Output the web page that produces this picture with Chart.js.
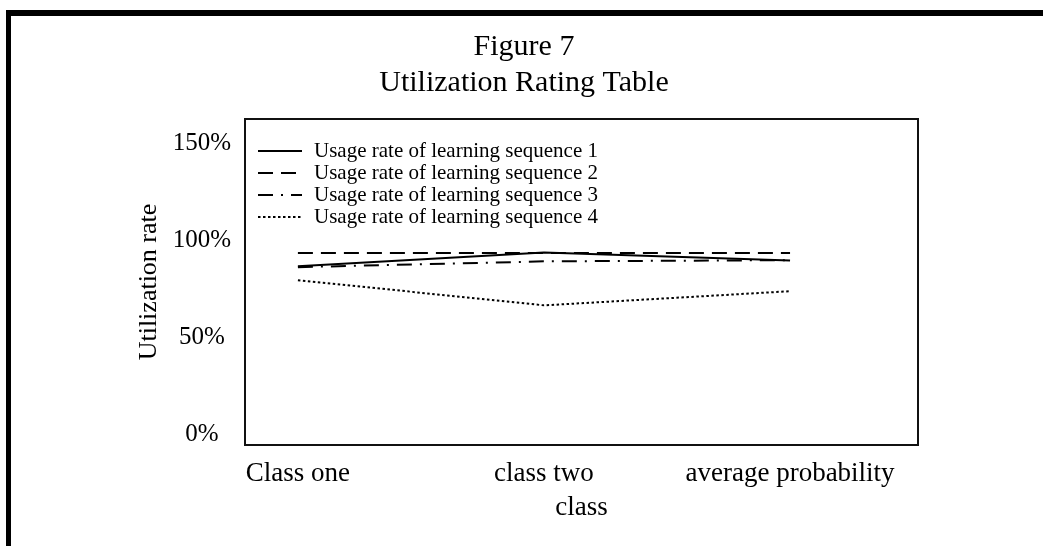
<!DOCTYPE html>
<html>
<head>
<meta charset="utf-8">
<script src="https://cdn.jsdelivr.net/npm/chart.js@4.4.0/dist/chart.umd.min.js"></script>
<style>
  html, body { margin: 0; padding: 0; background: #fff; }
  #wrap { position: relative; width: 1055px; height: 546px; overflow: hidden; background: #fff; }
  #frame { position: absolute; left: 6px; top: 10px; width: 1032px; height: 600px;
           border-top: 6px solid #000; border-left: 5px solid #000; pointer-events: none; }
  canvas { position: absolute; left: 0; top: 0; }
</style>
</head>
<body>
<div id="wrap">
  <canvas id="c" width="1055" height="546"></canvas>
  <div id="frame"></div>
</div>
<script>
// ---- data ----
const categories = ['Class one', 'class two', 'average probability'];
const seriesLabels = [
  'Usage rate of learning sequence 1',
  'Usage rate of learning sequence 2',
  'Usage rate of learning sequence 3',
  'Usage rate of learning sequence 4'
];
const seq1 = [86.5, 93.5, 89.5];
const seq2 = [93.3, 93.3, 93.3];
const seq3 = [86.0, 89.0, 89.6];
const seq4 = [79.3, 66.3, 73.6];
const yTickValues = [0, 50, 100, 150];
const yTickLabels = ['0%', '50%', '100%', '150%'];

// ---- styles ----
const FONT = '"Liberation Serif", "Times New Roman", serif';
const dashes = [[], [15, 8], [15, 8, 2, 8], [2.5, 2.5]];
const seriesValues = [seq1, seq2, seq3, seq4];

const datasets = seriesValues.map((vals, k) => ({
  label: seriesLabels[k],
  data: vals.map((v, i) => ({ x: i, y: v })),
  borderColor: '#000',
  backgroundColor: '#000',
  borderWidth: 2,
  borderDash: dashes[k],
  pointRadius: 0,
  tension: 0,
  fill: false
}));

const frameAndLegend = {
  id: 'frameAndLegend',
  afterDraw(chart) {
    const { ctx, chartArea: a } = chart;
    ctx.save();
    ctx.strokeStyle = '#111';
    ctx.lineWidth = 2;
    ctx.setLineDash([]);
    ctx.strokeRect(a.left, a.top, a.right - a.left, a.bottom - a.top);
    // legend inside plot area
    const rowTop = 32, rowGap = 22;
    const x0 = a.left + 13, x1 = a.left + 57, tx = a.left + 69;
    ctx.font = '21px ' + FONT;
    ctx.textBaseline = 'middle';
    ctx.textAlign = 'left';
    ctx.fillStyle = '#000';
    chart.data.datasets.forEach((ds, k) => {
      const y = a.top + rowTop + k * rowGap;
      ctx.beginPath();
      ctx.strokeStyle = '#000';
      ctx.lineWidth = ds.borderWidth;
      ctx.setLineDash(ds.borderDash || []);
      ctx.moveTo(x0, y);
      ctx.lineTo(x1, y);
      ctx.stroke();
      ctx.setLineDash([]);
      ctx.fillText(ds.label, tx, y);
    });
    ctx.restore();
  }
};

new Chart(document.getElementById('c'), {
  type: 'line',
  data: { datasets },
  plugins: [frameAndLegend],
  options: {
    responsive: false,
    devicePixelRatio: 1,
    animation: false,
    layout: { padding: { left: 130, right: 137, top: 0, bottom: 0 } },
    plugins: {
      legend: { display: false },
      tooltip: { enabled: false },
      title: {
        display: true,
        text: ['Figure 7', 'Utilization Rating Table'],
        color: '#000',
        font: { family: FONT, size: 30, weight: 'normal', lineHeight: 1.2 },
        padding: { top: 29, bottom: 18 }
      }
    },
    scales: {
      x: {
        type: 'linear',
        min: -0.215,
        max: 2.52,
        afterBuildTicks: s => { s.ticks = categories.map((c, i) => ({ value: i })); },
        afterFit: s => { s.height = 101; },
        grid: { display: false },
        border: { display: false },
        ticks: {
          autoSkip: false, maxRotation: 0, padding: 5, color: '#000',
          font: { family: FONT, size: 27 },
          callback: v => categories[v] !== undefined ? categories[v] : ''
        },
        title: {
          display: true, text: 'class', color: '#000',
          font: { family: FONT, size: 27 },
          padding: { top: 0, bottom: 22 }
        }
      },
      y: {
        type: 'linear',
        min: -5.7,
        max: 162.4,
        afterBuildTicks: s => { s.ticks = yTickValues.map(v => ({ value: v })); },
        afterFit: s => { s.width = 115; },
        grid: { display: false },
        border: { display: false },
        ticks: {
          crossAlign: 'center', padding: 6, color: '#000',
          font: { family: FONT, size: 25 },
          callback: (v) => yTickLabels[yTickValues.indexOf(v)]
        },
        title: {
          display: true, text: 'Utilization rate', color: '#000',
          font: { family: FONT, size: 26 },
          padding: { top: 4, bottom: 0 }
        }
      }
    }
  }
});
</script>
</body>
</html>
